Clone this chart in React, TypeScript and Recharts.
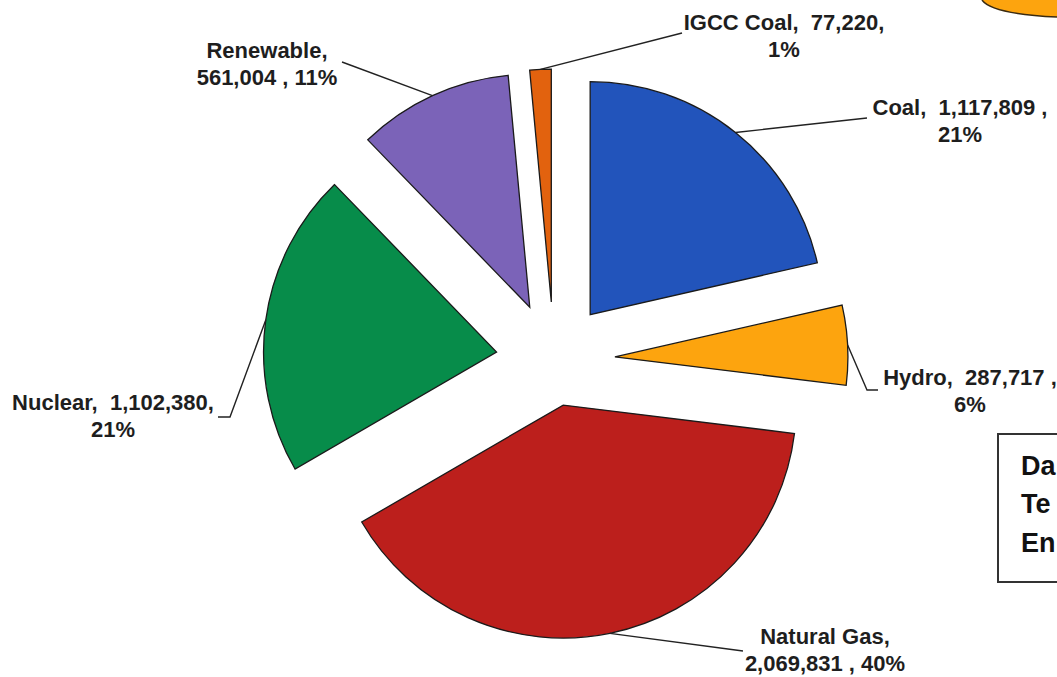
import { PieChart, Pie, Cell, Sector } from 'recharts';

const names = ['Coal', 'Hydro', 'Natural Gas', 'Nuclear', 'Renewable', 'IGCC Coal'];
const values = [1117809, 287717, 2069831, 1102380, 561004, 77220];
const colors = ['#2254BB', '#FDA40E', '#BC1F1C', '#078C4A', '#7B63B8', '#E2620E'];

const data = names.map((name, i) => ({ name, value: values[i] }));

// per-slice look: how far the slice is pulled out, the leader line elbows,
// the label centre / first baseline, and how the label text wraps
const layout = [
  { explode: 58, path: [[867, 118]], tx: 960, ty: 115, wrap: 'pct', sep: ' ,' },
  { explode: 61, path: [[867, 390], [878, 390]], tx: 970, ty: 385, wrap: 'pct', sep: ' ,' },
  { explode: 46, path: [[743, 651]], tx: 825, ty: 644, wrap: 'name', sep: ' ,' },
  { explode: 58, path: [[230, 417], [218, 417]], tx: 113, ty: 410, wrap: 'pct', sep: ',' },
  { explode: 58, path: [[342, 62]], tx: 267, ty: 58, wrap: 'name', sep: ' ,' },
  { explode: 58, path: [[682, 33]], tx: 784, ty: 30, wrap: 'pct', sep: ',' },
];

const RAD = Math.PI / 180;
const fmt = (v: number) => v.toLocaleString('en-US');

function ExplodedSlice(props: any) {
  const { cx, cy, startAngle, endAngle, midAngle, outerRadius, index, value, percent, name } = props;
  const l = layout[index];
  const ox = Math.cos(-midAngle * RAD) * l.explode;
  const oy = Math.sin(-midAngle * RAD) * l.explode;
  const sx = cx + ox + Math.cos(-midAngle * RAD) * outerRadius;
  const sy = cy + oy + Math.sin(-midAngle * RAD) * outerRadius;
  const pct = `${Math.round(percent * 100)}%`;
  const lines =
    l.wrap === 'pct'
      ? [`${name},  ${fmt(value)}${l.sep}`, pct]
      : [`${name},`, `${fmt(value)}${l.sep} ${pct}`];
  const pts = [[sx, sy], ...l.path].map((p) => p.join(',')).join(' ');
  return (
    <g>
      <Sector
        cx={cx + ox}
        cy={cy + oy}
        innerRadius={0}
        outerRadius={outerRadius}
        startAngle={startAngle}
        endAngle={endAngle}
        fill={colors[index]}
        stroke="#1a1a1a"
        strokeWidth={1.3}
      />
      <polyline points={pts} fill="none" stroke="#222" strokeWidth={1.4} />
      <text
        x={l.tx}
        y={l.ty}
        textAnchor="middle"
        fill="#1e1e1e"
        fontSize={22}
        fontWeight="bold"
        fontFamily="'Liberation Sans', Arial, sans-serif"
        xmlSpace="preserve"
        style={{ whiteSpace: 'pre' }}
      >
        {lines.map((t, i) => (
          <tspan key={i} x={l.tx} dy={i === 0 ? 0 : 27}>
            {t}
          </tspan>
        ))}
      </text>
    </g>
  );
}

export default function App() {
  return (
    <div
      style={{
        position: 'absolute',
        left: 0,
        top: 0,
        width: 1057,
        height: 677,
        overflow: 'hidden',
        background: '#fff',
      }}
    >
      <PieChart width={1057} height={677} margin={{ top: 0, right: 0, bottom: 0, left: 0 }}>
        <Pie
          data={data}
          dataKey="value"
          nameKey="name"
          cx={554}
          cy={360}
          outerRadius={233}
          startAngle={90}
          endAngle={-270}
          stroke="none"
          labelLine={false}
          label={ExplodedSlice}
          isAnimationActive={false}
        >
          {data.map((d, i) => (
            <Cell key={d.name} fill="transparent" />
          ))}
        </Pie>
      </PieChart>
      <svg
        width={1057}
        height={677}
        style={{ position: 'absolute', left: 0, top: 0, pointerEvents: 'none' }}
      >
        <path d="M982,0 Q992,14 1057,17 L1057,0 Z" fill="#FDA40E" />
        <path d="M982,0 Q992,14 1057,17" fill="none" stroke="#3a2a10" strokeWidth={1.5} />
        <rect x={998} y={434} width={100} height={148} fill="#fff" stroke="#333" strokeWidth={2} />
        <g fontFamily="'Liberation Sans', Arial, sans-serif" fontWeight="bold" fontSize={27} fill="#111">
          <text x={1021} y={475}>Da</text>
          <text x={1021} y={513}>Te</text>
          <text x={1021} y={552}>En</text>
        </g>
      </svg>
    </div>
  );
}
